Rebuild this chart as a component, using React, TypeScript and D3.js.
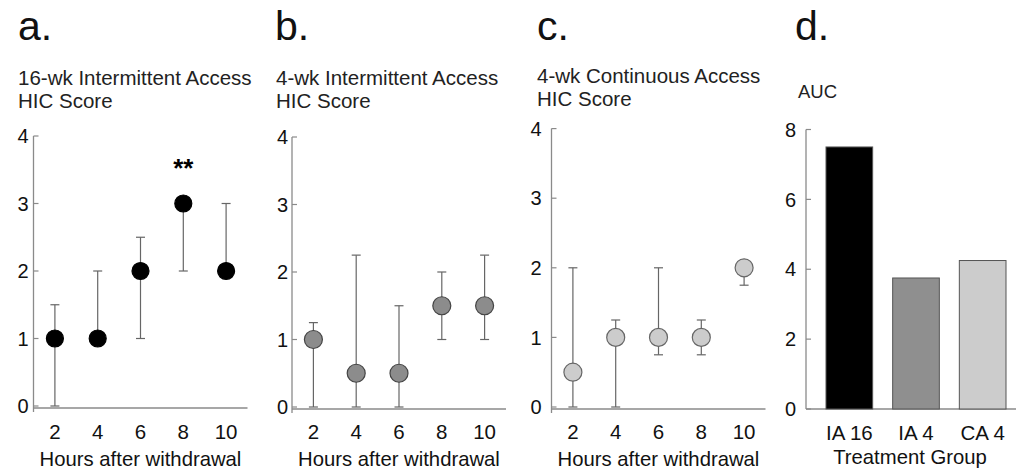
import React from 'react';
import * as d3 from 'd3';

// hours after withdrawal
const hours = [2, 4, 6, 8, 10];
const scoreTicks = [0, 1, 2, 3, 4];

// HIC score medians with lower / upper bars
const ia16Score = [1, 1, 2, 3, 2];
const ia16Low = [0, 1, 1, 2, 2];
const ia16High = [1.5, 2, 2.5, 3, 3];

const ia4Score = [1, 0.5, 0.5, 1.5, 1.5];
const ia4Low = [0, 0, 0, 1, 1];
const ia4High = [1.25, 2.25, 1.5, 2, 2.25];

const ca4Score = [0.5, 1, 1, 1, 2];
const ca4Low = [0, 0, 0.75, 0.75, 1.75];
const ca4High = [2, 1.25, 2, 1.25, 2];

// area under curve
const groups = ['IA 16', 'IA 4', 'CA 4'];
const auc = [7.5, 3.75, 4.25];
const aucTicks = [0, 2, 4, 6, 8];

const FONT = '"Liberation Sans", Arial, sans-serif';
const AXIS = '#8a8a8a';
const BAR = '#666';

const panels = [
  { letter: 'a.', title: '16-wk Intermittent Access', x0: 33.5, y0: 406, yTop: 136, tx: 18, lx: 18, gap: 5,
    score: ia16Score, low: ia16Low, high: ia16High, fill: '#000', stroke: '#000', r: 8.5, t1: 85, t2: 108 },
  { letter: 'b.', title: '4-wk Intermittent Access', x0: 292, y0: 407, yTop: 137, tx: 276, lx: 275, gap: 4,
    score: ia4Score, low: ia4Low, high: ia4High, fill: '#8c8c8c', stroke: '#444', r: 9, t1: 85, t2: 108 },
  { letter: 'c.', title: '4-wk Continuous Access', x0: 551.5, y0: 407, yTop: 128.6, tx: 537, lx: 537, gap: 10,
    score: ca4Score, low: ca4Low, high: ca4High, fill: '#cccccc', stroke: '#666', r: 9, t1: 83, t2: 106 },
];

function ScorePanel({ p, stars }: { p: any; stars?: boolean }) {
  const x = d3.scaleLinear().domain([1, 11]).range([p.x0, p.x0 + 214]);
  const y = d3.scaleLinear().domain([0, 4]).range([p.y0, p.yTop]);
  const cap = 4.5;
  return (
    <g>
      <text x={p.lx} y={40} fontSize={41} fontFamily={FONT} fill="#111">{p.letter}</text>
      <text x={p.tx} y={p.t1} fontSize={20.5} fontFamily={FONT} fill="#222">{p.title}</text>
      <text x={p.tx} y={p.t2} fontSize={20.5} fontFamily={FONT} fill="#222">HIC Score</text>

      {/* axes */}
      <line x1={p.x0} x2={p.x0} y1={y(4)} y2={y(0) + 6} stroke={AXIS} strokeWidth={1.3} />
      <line x1={p.x0} x2={x(11)} y1={y(0) + 2} y2={y(0) + 2} stroke={AXIS} strokeWidth={1.3} />
      {scoreTicks.map((t) => (
        <g key={t}>
          <line x1={p.x0} x2={p.x0 + 5} y1={y(t)} y2={y(t)} stroke={AXIS} strokeWidth={1.2} />
          <text x={p.x0 - p.gap} y={y(t)} dy="0.36em" textAnchor="end" fontSize={20} fontFamily={FONT} fill="#111">{t}</text>
        </g>
      ))}
      {hours.map((h) => (
        <text key={h} x={x(h)} y={439} textAnchor="middle" fontSize={20.5} fontFamily={FONT} fill="#111">{h}</text>
      ))}
      <text x={x(6)} y={466} textAnchor="middle" fontSize={20.3} fontFamily={FONT} fill="#111">Hours after withdrawal</text>

      {/* error bars */}
      {hours.map((h, i) => (
        <g key={'e' + h} stroke={BAR} strokeWidth={1.2}>
          <line x1={x(h)} x2={x(h)} y1={y(p.low[i])} y2={y(p.high[i])} />
          <line x1={x(h) - cap} x2={x(h) + cap} y1={y(p.low[i])} y2={y(p.low[i])} />
          <line x1={x(h) - cap} x2={x(h) + cap} y1={y(p.high[i])} y2={y(p.high[i])} />
        </g>
      ))}
      {hours.map((h, i) => (
        <circle key={'c' + h} cx={x(h)} cy={y(p.score[i])} r={p.r} fill={p.fill} stroke={p.stroke} strokeWidth={1.2} />
      ))}
      {stars && (
        <text x={x(8)} y={y(3) - 27} textAnchor="middle" fontSize={26} fontWeight="bold" fontFamily={FONT}>**</text>
      )}
    </g>
  );
}

function AucPanel() {
  const x0 = 806;
  const x = d3.scaleBand().domain(groups).range([x0, x0 + 220]).paddingInner(0.3).paddingOuter(0.3);
  const y = d3.scaleLinear().domain([0, 8]).range([409, 129.5]);
  const fills = ['#000', '#8f8f8f', '#cccccc'];
  return (
    <g>
      <text x={795} y={40} fontSize={41} fontFamily={FONT} fill="#111">d.</text>
      <text x={798} y={98} fontSize={18.5} fontFamily={FONT} fill="#222">AUC</text>
      <line x1={x0} x2={x0} y1={y(8)} y2={y(0)} stroke={AXIS} strokeWidth={1.3} />
      <line x1={x0} x2={1016} y1={y(0)} y2={y(0)} stroke={AXIS} strokeWidth={1.3} />
      {aucTicks.map((t) => (
        <g key={t}>
          <line x1={x0} x2={x0 + 5} y1={y(t)} y2={y(t)} stroke={AXIS} strokeWidth={1.2} />
          <text x={x0 - 10} y={y(t)} dy="0.36em" textAnchor="end" fontSize={20} fontFamily={FONT} fill="#111">{t}</text>
        </g>
      ))}
      {groups.map((g, i) => (
        <g key={g}>
          <rect x={x(g)} y={y(auc[i])} width={x.bandwidth()} height={y(0) - y(auc[i])} fill={fills[i]} stroke="#555" strokeWidth={1} />
          <text x={(x(g) as number) + x.bandwidth() / 2} y={440} textAnchor="middle" fontSize={20.5} fontFamily={FONT} fill="#111">{g}</text>
        </g>
      ))}
      <text x={910} y={464} textAnchor="middle" fontSize={20.3} fontFamily={FONT} fill="#111">Treatment Group</text>
    </g>
  );
}

export default function App() {
  return (
    <svg width={1016} height={475} style={{ position: 'absolute', left: 0, top: 0, background: '#fff' }}>
      {panels.map((p, i) => (
        <ScorePanel key={p.letter} p={p} stars={i === 0} />
      ))}
      <AucPanel />
    </svg>
  );
}
